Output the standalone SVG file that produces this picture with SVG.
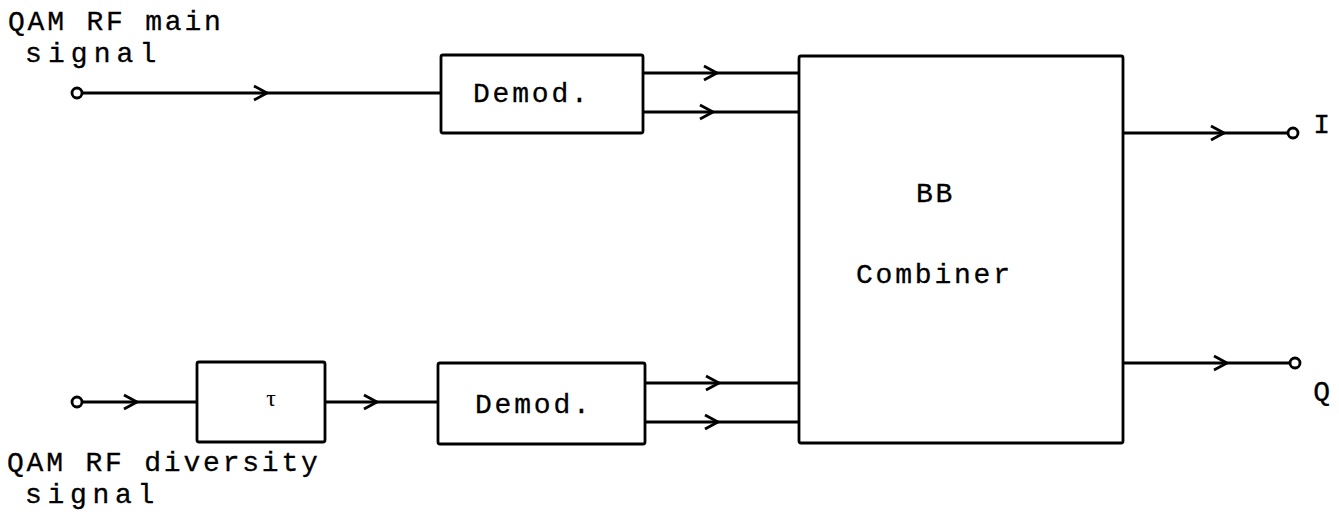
<svg xmlns="http://www.w3.org/2000/svg" xmlns:xlink="http://www.w3.org/1999/xlink" width="1339" height="522" viewBox="0 0 1339 522">
<style>
.bx{fill:#fff;stroke:#000;stroke-width:2.8}
.ln{fill:none;stroke:#000;stroke-width:2.8}
.tm{fill:#fff;stroke:#000;stroke-width:2.8}
.tx{font-family:"Liberation Mono","Courier New",monospace;font-size:28px;letter-spacing:2.8px;fill:#000;stroke:#000;stroke-width:0.3}
.tau{font-family:"Liberation Serif","Times New Roman",serif;font-size:24px;fill:#000}
</style>
<defs>
<path id="arr" d="M-13,-7 L0,0 L-13,7" fill="none" stroke="#000" stroke-width="2.8"/>
</defs>
<rect width="1339" height="522" fill="#fff"/>
<g id="connectors">
<line class="ln" x1="82" y1="93" x2="441" y2="93"/>
<use xlink:href="#arr" x="267" y="93"/>
<line class="ln" x1="82" y1="402" x2="197" y2="402"/>
<use xlink:href="#arr" x="137" y="402"/>
<line class="ln" x1="325" y1="402" x2="438" y2="402"/>
<use xlink:href="#arr" x="377" y="402"/>
<line class="ln" x1="643" y1="73" x2="799" y2="73"/>
<use xlink:href="#arr" x="717" y="73"/>
<line class="ln" x1="643" y1="112" x2="799" y2="112"/>
<use xlink:href="#arr" x="713" y="112"/>
<line class="ln" x1="645" y1="383" x2="800" y2="383"/>
<use xlink:href="#arr" x="719" y="383"/>
<line class="ln" x1="645" y1="422" x2="800" y2="422"/>
<use xlink:href="#arr" x="718" y="422"/>
<line class="ln" x1="1123" y1="133" x2="1288" y2="133"/>
<use xlink:href="#arr" x="1224" y="133"/>
<line class="ln" x1="1123" y1="363" x2="1290" y2="363"/>
<use xlink:href="#arr" x="1227" y="363"/>
</g>
<g id="in_main">
<circle class="tm" cx="77" cy="93" r="5"/>
<text class="tx" x="8" y="30">QAM RF main</text>
<text class="tx" x="25" y="62" textLength="134" lengthAdjust="spacing">signal</text>
</g>
<g id="in_diversity">
<circle class="tm" cx="77" cy="402" r="5"/>
<text class="tx" x="7" y="471">QAM RF diversity</text>
<text class="tx" x="25" y="503" textLength="132" lengthAdjust="spacing">signal</text>
</g>
<g id="delay">
<rect class="bx" x="197" y="362" width="128" height="80" rx="2"/>
<text class="tau" x="271" y="406" text-anchor="middle">τ</text>
</g>
<g id="demod_main">
<rect class="bx" x="441" y="55" width="202" height="78" rx="2"/>
<text class="tx" x="473" y="102">Demod.</text>
</g>
<g id="demod_diversity">
<rect class="bx" x="438" y="363" width="207" height="81" rx="2"/>
<text class="tx" x="475" y="413">Demod.</text>
</g>
<g id="combiner">
<rect class="bx" x="799" y="56" width="324" height="387" rx="2"/>
<text class="tx" x="916" y="202">BB</text>
<text class="tx" x="856" y="283">Combiner</text>
</g>
<g id="out_I">
<circle class="tm" cx="1293" cy="133" r="5"/>
<text class="tx" x="1323" y="133" text-anchor="middle">I</text>
</g>
<g id="out_Q">
<circle class="tm" cx="1295" cy="363" r="5"/>
<text class="tx" x="1323" y="400" text-anchor="middle">Q</text>
</g>
</svg>
